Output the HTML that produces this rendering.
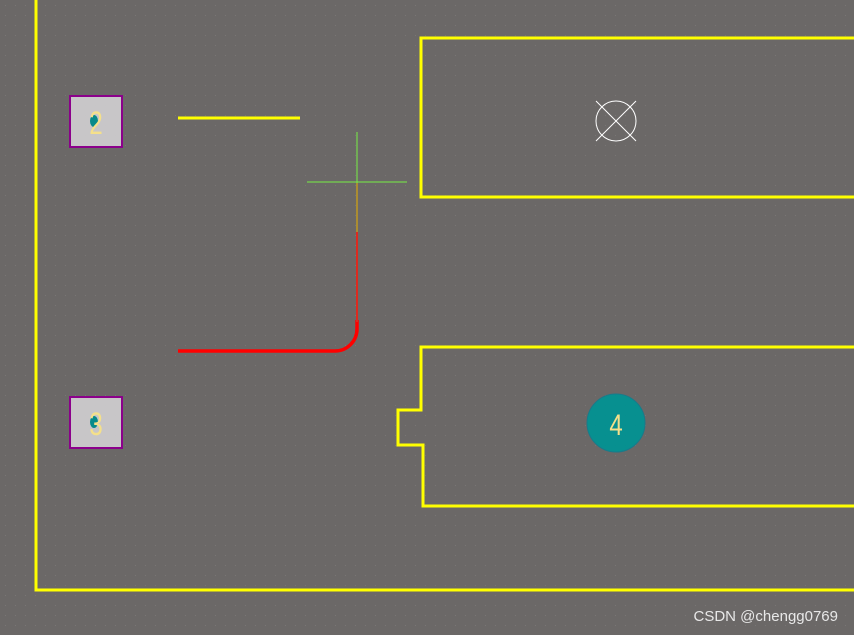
<!DOCTYPE html>
<html><head><meta charset="utf-8"><style>
html,body{margin:0;padding:0;background:#6b6867;}
svg{display:block}
text{font-family:"Liberation Sans",sans-serif;}
</style></head><body>
<svg width="854" height="635" viewBox="0 0 854 635" xmlns="http://www.w3.org/2000/svg">
<defs><pattern id="g" width="10" height="10" patternUnits="userSpaceOnUse"><rect x="5" y="5" width="1" height="1" fill="#7a7776"/></pattern></defs>
<rect width="854" height="635" fill="#6b6867"/>
<rect width="854" height="635" fill="url(#g)"/>
<g fill="none" stroke="#ffff00" stroke-width="3">
<polyline points="36,0 36,590 854,590"/>
<polyline points="854,38 421,38 421,197 854,197"/>
<polyline points="854,347 421,347 421,410 398,410 398,445 423,445 423,506 854,506"/>
<line x1="178" y1="118" x2="300" y2="118"/>
</g>
<path d="M178,351 L335,351 A22,22 0 0 0 357,329 L357,320" fill="none" stroke="#ff0000" stroke-width="3.5"/>
<line x1="357" y1="322" x2="357" y2="183" stroke="#dd2a20" stroke-width="2"/>
<line x1="357" y1="132" x2="357" y2="232" stroke="#77ee44" stroke-width="1"/>
<line x1="307" y1="182" x2="407" y2="182" stroke="#77ee44" stroke-width="1"/>
<g stroke="#fff" stroke-width="1" fill="none">
<circle cx="616" cy="121" r="20"/>
<line x1="596" y1="101" x2="636" y2="141"/>
<line x1="636" y1="101" x2="596" y2="141"/>
</g>
<circle cx="616" cy="423" r="29" fill="#079090" stroke="#1a7a8a" stroke-width="1"/>
<text x="616" y="435" font-size="30" fill="#f5e08a" text-anchor="middle" transform="translate(616 0) scale(0.8 1) translate(-616 0)">4</text>
<rect x="70" y="96" width="52" height="51" fill="#c8c6c8" stroke="#8b008b" stroke-width="2"/>
<ellipse cx="94" cy="121" rx="4" ry="6" fill="#078a8a"/>
<text x="96" y="134" font-size="32" fill="#f5e08a" text-anchor="middle" transform="translate(96 0) scale(0.75 1) translate(-96 0)">2</text>
<rect x="70" y="397" width="52" height="51" fill="#c8c6c8" stroke="#8b008b" stroke-width="2"/>
<ellipse cx="94" cy="422" rx="4" ry="6" fill="#078a8a"/>
<text x="96" y="435" font-size="32" fill="#f5e08a" text-anchor="middle" transform="translate(96 0) scale(0.75 1) translate(-96 0)">3</text>
<text x="838" y="621" font-size="15" fill="#e8e8e8" text-anchor="end">CSDN @chengg0769</text>
</svg>
</body></html>
